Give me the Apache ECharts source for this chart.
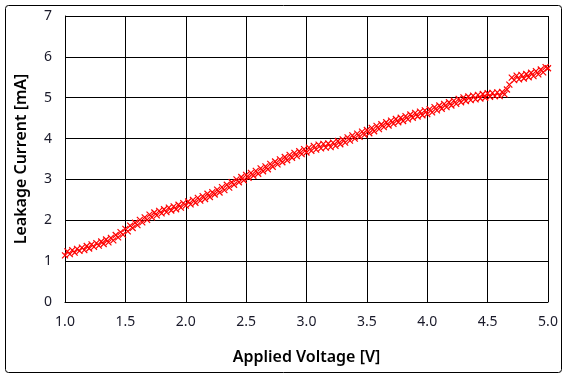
<!DOCTYPE html>
<html>
<head>
<meta charset="utf-8">
<script src="https://cdn.jsdelivr.net/npm/echarts@6/dist/echarts.min.js"></script>
<style>
html,body{margin:0;padding:0;background:#fff;}
#chart{width:568px;height:379px;}
</style>
</head>
<body>
<div id="chart"></div>
<script>
const xTicks = ['1.0','1.5','2.0','2.5','3.0','3.5','4.0','4.5','5.0'];
const yTicks = [0,1,2,3,4,5,6,7];
const xTitle = 'Applied Voltage [V]';
const yTitle = 'Leakage Current [mA]';
const voltage = [
1.00,1.02,1.04,1.06,1.08,1.10,1.12,1.14,1.16,1.18,
1.20,1.22,1.24,1.26,1.28,1.30,1.32,1.34,1.36,1.38,
1.40,1.42,1.44,1.46,1.48,1.50,1.52,1.54,1.56,1.58,
1.60,1.62,1.64,1.66,1.68,1.70,1.72,1.74,1.76,1.78,
1.80,1.82,1.84,1.86,1.88,1.90,1.92,1.94,1.96,1.98,
2.00,2.02,2.04,2.06,2.08,2.10,2.12,2.14,2.16,2.18,
2.20,2.22,2.24,2.26,2.28,2.30,2.32,2.34,2.36,2.38,
2.40,2.42,2.44,2.46,2.48,2.50,2.52,2.54,2.56,2.58,
2.60,2.62,2.64,2.66,2.68,2.70,2.72,2.74,2.76,2.78,
2.80,2.82,2.84,2.86,2.88,2.90,2.92,2.94,2.96,2.98,
3.00,3.02,3.04,3.06,3.08,3.10,3.12,3.14,3.16,3.18,
3.20,3.22,3.24,3.26,3.28,3.30,3.32,3.34,3.36,3.38,
3.40,3.42,3.44,3.46,3.48,3.50,3.52,3.54,3.56,3.58,
3.60,3.62,3.64,3.66,3.68,3.70,3.72,3.74,3.76,3.78,
3.80,3.82,3.84,3.86,3.88,3.90,3.92,3.94,3.96,3.98,
4.00,4.02,4.04,4.06,4.08,4.10,4.12,4.14,4.16,4.18,
4.20,4.22,4.24,4.26,4.28,4.30,4.32,4.34,4.36,4.38,
4.40,4.42,4.44,4.46,4.48,4.50,4.52,4.54,4.56,4.58,
4.60,4.62,4.64,4.66,4.68,4.70,4.72,4.74,4.76,4.78,
4.80,4.82,4.84,4.86,4.88,4.90,4.92,4.94,4.96,4.98,
5.00
];
const current = [
1.14,1.24,1.17,1.27,1.21,1.30,1.25,1.33,1.27,1.37,
1.31,1.41,1.35,1.44,1.38,1.48,1.42,1.53,1.46,1.57,
1.51,1.64,1.58,1.71,1.65,1.79,1.73,1.87,1.81,1.94,
1.88,2.01,1.95,2.07,2.01,2.14,2.07,2.19,2.12,2.23,
2.17,2.27,2.20,2.31,2.24,2.34,2.27,2.38,2.31,2.42,
2.36,2.46,2.39,2.50,2.43,2.55,2.48,2.59,2.52,2.65,
2.57,2.69,2.63,2.75,2.68,2.81,2.74,2.87,2.80,2.93,
2.87,3.00,2.93,3.06,2.98,3.11,3.04,3.16,3.09,3.21,
3.14,3.27,3.20,3.32,3.25,3.38,3.31,3.44,3.37,3.49,
3.42,3.55,3.47,3.60,3.53,3.65,3.57,3.69,3.62,3.74,
3.66,3.78,3.70,3.82,3.73,3.85,3.76,3.87,3.78,3.88,
3.79,3.90,3.82,3.94,3.86,3.98,3.90,4.03,3.95,4.08,
4.00,4.12,4.04,4.17,4.09,4.21,4.13,4.26,4.18,4.31,
4.23,4.35,4.28,4.40,4.32,4.44,4.36,4.48,4.40,4.51,
4.43,4.55,4.47,4.59,4.51,4.63,4.54,4.66,4.57,4.69,
4.60,4.72,4.64,4.77,4.69,4.81,4.73,4.85,4.77,4.89,
4.81,4.93,4.85,4.97,4.89,5.01,4.92,5.03,4.94,5.05,
4.96,5.07,4.98,5.09,5.00,5.11,5.02,5.12,5.04,5.13,
5.04,5.14,5.08,5.20,5.32,5.49,5.43,5.54,5.45,5.56,
5.47,5.58,5.50,5.61,5.53,5.65,5.57,5.69,5.62,5.75,
5.72
];

const chart = echarts.init(document.getElementById('chart'), null, {renderer:'canvas'});
const FONT = '"Noto Sans", "DejaVu Sans", sans-serif';
const pts = voltage.map((v,i)=>[v,current[i]]);
chart.setOption({
  animation:false,
  backgroundColor:'#ffffff',
  graphic:[{
    type:'rect', shape:{x:5.5,y:5.5,width:556,height:367,r:3},
    style:{fill:'none',stroke:'#000',lineWidth:1}, z:-1
  }],
  grid:{left:65,right:20,top:16,bottom:77,containLabel:false},
  xAxis:{
    type:'value', min:1.0, max:5.0, interval:0.5,
    name:xTitle, nameLocation:'middle', nameGap:47,
    nameTextStyle:{fontFamily:FONT,fontSize:16,fontWeight:600,color:'#000'},
    axisLine:{show:true,lineStyle:{color:'#000',width:1}},
    axisTick:{show:false},
    axisLabel:{margin:13,fontFamily:FONT,fontSize:14,color:'#1a1a2a',
      formatter:(v)=>{const i=Math.round((v-1)/0.5);return xTicks[i]!==undefined?xTicks[i]:'';}},
    splitLine:{show:true,lineStyle:{color:'#000',width:1}}
  },
  yAxis:{
    type:'value', min:0, max:7, interval:1,
    name:yTitle, nameLocation:'middle', nameGap:36,
    nameTextStyle:{fontFamily:FONT,fontSize:16,fontWeight:600,color:'#000'},
    axisLine:{show:true,lineStyle:{color:'#000',width:1}},
    axisTick:{show:false},
    axisLabel:{margin:13,fontFamily:FONT,fontSize:14,color:'#1a1a2a',
      formatter:(v)=>String(yTicks[Math.round(v)])},
    splitLine:{show:true,lineStyle:{color:'#000',width:1}}
  },
  series:[{
    type:'scatter',
    data:pts,
    symbol:'path://M0,0L10,10M0,10L10,0',
    symbolSize:6,
    itemStyle:{color:'none',borderColor:'#ff0000',borderWidth:1.2,opacity:1},
    z:5
  }]
});
</script>
</body>
</html>
